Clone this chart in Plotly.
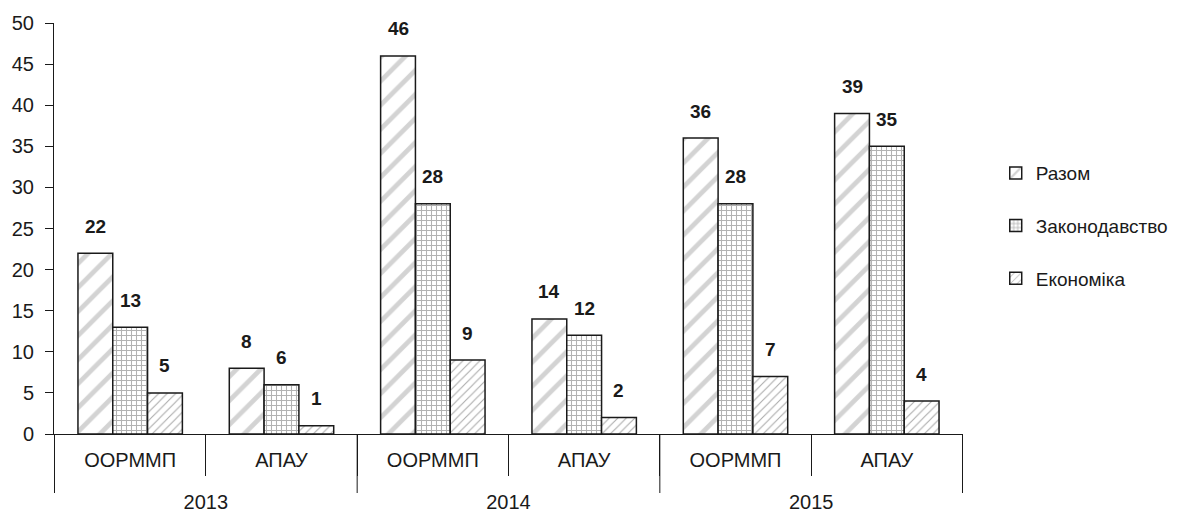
import plotly.graph_objects as go

years = ["2013", "2013", "2014", "2014", "2015", "2015"]
orgs = ["ООРММП", "АПАУ", "ООРММП", "АПАУ", "ООРММП", "АПАУ"]
series_names = ["Разом", "Законодавство", "Економіка"]
razom = [22, 8, 46, 14, 36, 39]
zakon = [13, 6, 28, 12, 28, 35]
ekon = [5, 1, 9, 2, 7, 4]
y_ticks = [0, 5, 10, 15, 20, 25, 30, 35, 40, 45, 50]

series = [razom, zakon, ekon]
patterns = [
    dict(shape="/", fgcolor="#a8a8a8", bgcolor="white", size=17, solidity=0.28),
    dict(shape="+", fgcolor="#666666", bgcolor="white", size=5, solidity=0.38),
    dict(shape="/", fgcolor="#555555", bgcolor="white", size=6, solidity=0.18),
]

BARGAP = 0.31
FONT = "Liberation Sans, Arial, sans-serif"
LINE = "#1a1a1a"

# inner labels get an empty second line so the year row sits lower
org_labels = [o + "<br> " for o in orgs]

fig = go.Figure()
for k, (name, vals, pat) in enumerate(zip(series_names, series, patterns)):
    fig.add_trace(go.Bar(
        x=[years, org_labels], y=vals, name=name, legendgroup=name,
        marker=dict(color="white", pattern=pat, line=dict(color=LINE, width=1.5)),
        hoverinfo="y",
    ))

# value labels above each bar
n = len(series_names)
bw = (1 - BARGAP) / n
for k, vals in enumerate(series):
    for i, v in enumerate(vals):
        fig.add_annotation(
            x=i + (k - (n - 1) / 2) * bw, y=v, xref="x", yref="y",
            text=f"<b>{v}</b>", showarrow=False, yshift=27, yanchor="middle",
            font=dict(family=FONT, size=19, color=LINE),
        )

# long separators at year boundaries (and both ends)
bounds = [-0.5] + [i - 0.5 for i in range(1, len(years)) if years[i] != years[i - 1]] + [len(years) - 0.5]
for b in bounds:
    fig.add_shape(type="line", xref="x", yref="paper", x0=b, x1=b, y0=0, y1=-59 / 411,
                  line=dict(color=LINE, width=1))

fig.update_layout(
    width=1177, height=513,
    margin=dict(l=54, r=214, t=23, b=79, autoexpand=False),
    paper_bgcolor="white", plot_bgcolor="white",
    barmode="group", bargap=BARGAP, bargroupgap=0,
    font=dict(family=FONT, size=20, color=LINE),
    legend=dict(
        x=1.036, y=0.506, xanchor="left", yanchor="middle",
        font=dict(family=FONT, size=19, color=LINE),
        tracegroupgap=25, traceorder="grouped",
        bgcolor="rgba(0,0,0,0)",
    ),
    showlegend=True,
)
fig.update_xaxes(
    type="multicategory", showline=True, linecolor=LINE, linewidth=1,
    ticks="outside", tickson="boundaries", ticklen=41, tickcolor=LINE,
    showdividers=False,
    showgrid=False, automargin=False, ticklabelstandoff=8,
    tickfont=dict(family=FONT, size=20, color=LINE),
)
fig.update_yaxes(
    range=[0, 50], tickvals=y_ticks, showline=True, linecolor=LINE, linewidth=1,
    ticks="outside", ticklen=8, tickcolor=LINE, showgrid=False, zeroline=False,
    automargin=False, ticklabelstandoff=7,
    tickfont=dict(family=FONT, size=20, color=LINE),
)

fig.write_html("out.html", config={"displayModeBar": False},
               post_script="document.body.style.margin='0';")
